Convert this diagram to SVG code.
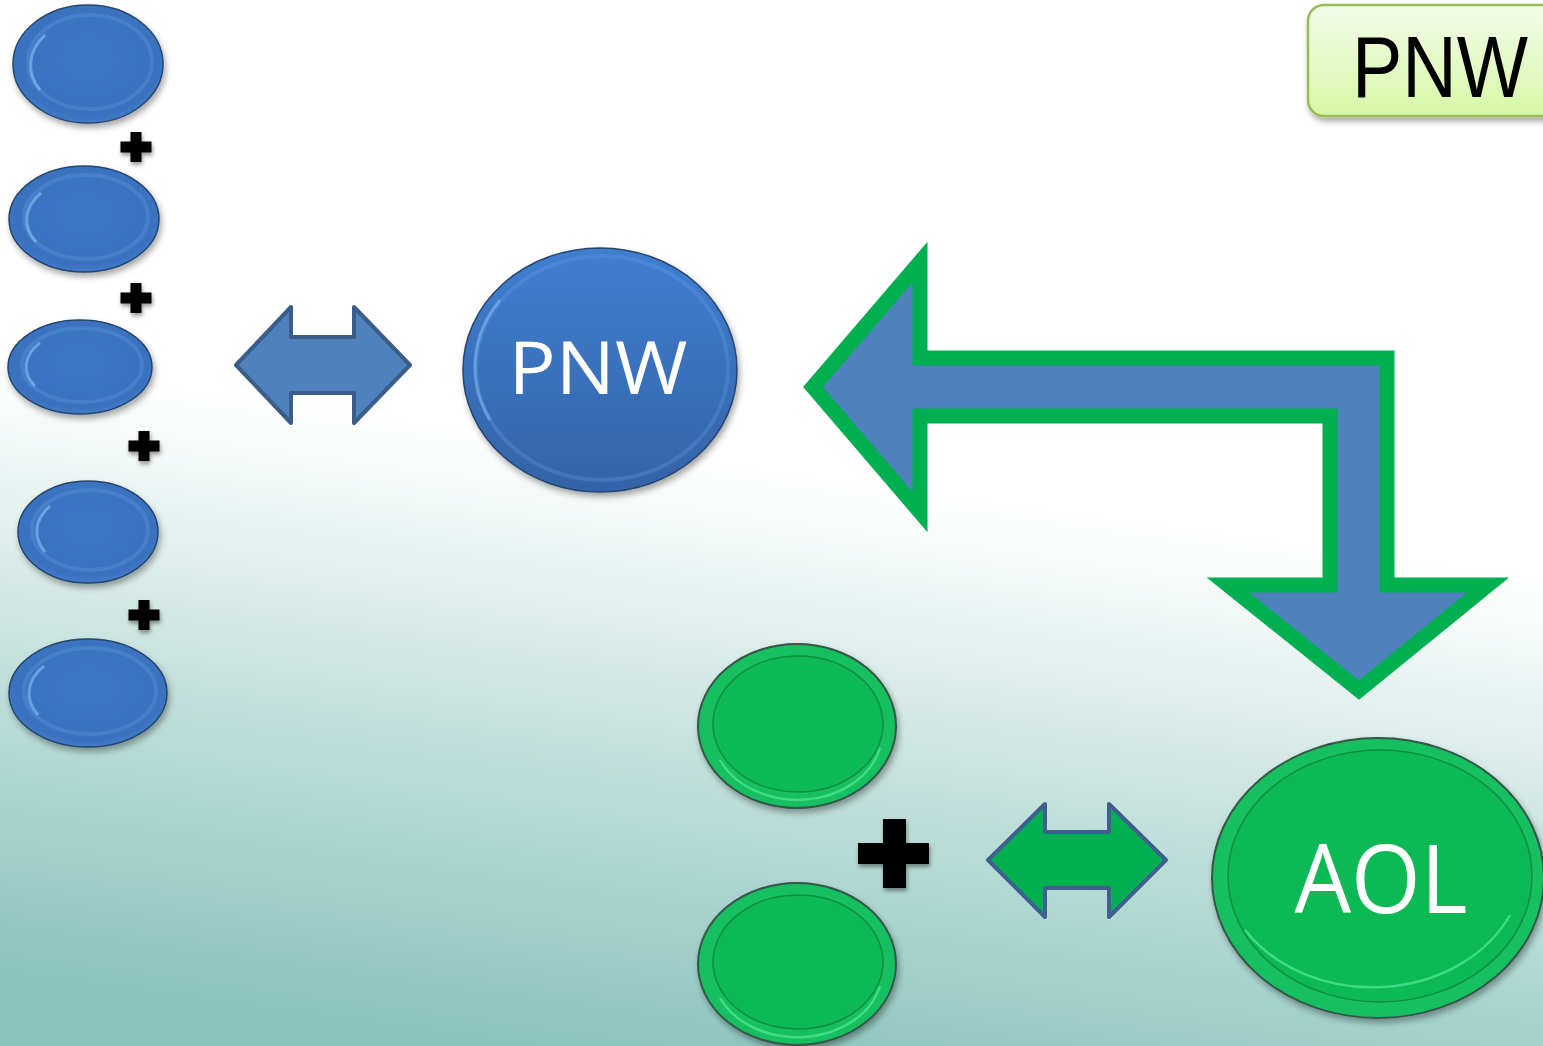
<svg xmlns="http://www.w3.org/2000/svg" width="1543" height="1046" viewBox="0 0 1543 1046">
<defs>
  <linearGradient id="bg" gradientUnits="userSpaceOnUse" x1="800" y1="470" x2="716" y2="1076">
    <stop offset="0" stop-color="#ffffff"/>
    <stop offset="0.12" stop-color="#f3f9f8"/>
    <stop offset="0.5" stop-color="#c2e0db"/>
    <stop offset="1" stop-color="#89c3bb"/>
  </linearGradient>
  <radialGradient id="blueFill" cx="0.5" cy="0.45" r="0.6">
    <stop offset="0" stop-color="#3d78c6"/>
    <stop offset="0.82" stop-color="#3a72bf"/>
    <stop offset="1" stop-color="#4a86d3"/>
  </radialGradient>
  <linearGradient id="bigBlue" x1="0" y1="0" x2="0" y2="1">
    <stop offset="0" stop-color="#3f7fd0"/>
    <stop offset="1" stop-color="#3563a8"/>
  </linearGradient>
  <linearGradient id="boxFill" x1="0" y1="0" x2="0" y2="1">
    <stop offset="0" stop-color="#f3fbea"/>
    <stop offset="1" stop-color="#d6f8a6"/>
  </linearGradient>
  <filter id="shadow" x="-20%" y="-20%" width="140%" height="150%">
    <feDropShadow dx="2" dy="4" stdDeviation="3" flood-color="#000" flood-opacity="0.35"/>
  </filter>
  <filter id="pshadow" x="-30%" y="-30%" width="160%" height="170%">
    <feDropShadow dx="1" dy="3" stdDeviation="2" flood-color="#000" flood-opacity="0.4"/>
  </filter>
  <style>
    .bl { fill: url(#blueFill); stroke: #24466f; stroke-width: 1.5; }
    .blr { fill: none; stroke: #6aa4ea; stroke-opacity: 0.25; stroke-width: 4; }
    .blh { fill: none; stroke: #8cc0f5; stroke-opacity: 0.6; stroke-width: 3; }
    .gr { fill: #16bf5e; stroke: #34574a; stroke-width: 2; }
    .gri { fill: #0bb954; stroke: #0c8f42; stroke-width: 1.5; }
    .grh { fill: none; stroke: #4be28e; stroke-width: 2.5; stroke-opacity: 0.8; }
    .plus { fill: #000; }
    .lbl { font-family: "Open Sans", "Noto Sans", sans-serif; fill: #fff; text-anchor: middle; }
  </style>
</defs>

<rect x="0" y="0" width="1543" height="1046" fill="url(#bg)"/>

<!-- top right label box -->
<g id="label-box">
  <rect x="1308" y="5" width="260" height="111" rx="16" ry="16" fill="url(#boxFill)" stroke="#9bbb59" stroke-width="2.5" filter="url(#shadow)"/>
  <text x="1352" y="97" font-family="Liberation Sans, Arial, sans-serif" font-size="88" fill="#000" textLength="176" lengthAdjust="spacingAndGlyphs">PNW</text>
</g>

<!-- small blue ellipses -->
<g id="blue-1" filter="url(#shadow)">
  <ellipse class="bl" cx="88" cy="64" rx="75" ry="59"/>
  <ellipse class="blr" cx="90" cy="62" rx="62" ry="47"/>
  <path class="blh" d="M 40 90 A 62 47 0 0 1 45 35"/>
</g>
<g id="blue-2" filter="url(#shadow)">
  <ellipse class="bl" cx="84" cy="219" rx="75" ry="53"/>
  <ellipse class="blr" cx="86" cy="217" rx="62" ry="42"/>
  <path class="blh" d="M 36 242 A 62 42 0 0 1 41 193"/>
</g>
<g id="blue-3" filter="url(#shadow)">
  <ellipse class="bl" cx="80" cy="367" rx="72" ry="47"/>
  <ellipse class="blr" cx="82" cy="365" rx="60" ry="37"/>
  <path class="blh" d="M 35 386 A 60 37 0 0 1 40 343"/>
</g>
<g id="blue-4" filter="url(#shadow)">
  <ellipse class="bl" cx="88" cy="532" rx="70" ry="51"/>
  <ellipse class="blr" cx="90" cy="530" rx="58" ry="40"/>
  <path class="blh" d="M 45 552 A 58 40 0 0 1 50 506"/>
</g>
<g id="blue-5" filter="url(#shadow)">
  <ellipse class="bl" cx="88" cy="693" rx="79" ry="54"/>
  <ellipse class="blr" cx="90" cy="691" rx="66" ry="43"/>
  <path class="blh" d="M 38 715 A 66 43 0 0 1 44 666"/>
</g>

<!-- small plus signs -->
<g id="plus-1" class="plus" filter="url(#pshadow)">
  <rect x="130.5" y="132" width="11" height="30"/>
  <rect x="120.5" y="141.5" width="31" height="11"/>
</g>
<g id="plus-2" class="plus" filter="url(#pshadow)">
  <rect x="130.5" y="283" width="11" height="30"/>
  <rect x="120.5" y="292.5" width="31" height="11"/>
</g>
<g id="plus-3" class="plus" filter="url(#pshadow)">
  <rect x="138.5" y="431" width="11" height="30"/>
  <rect x="128.5" y="440.5" width="31" height="11"/>
</g>
<g id="plus-4" class="plus" filter="url(#pshadow)">
  <rect x="138.5" y="600" width="11" height="30"/>
  <rect x="128.5" y="609.5" width="31" height="11"/>
</g>

<!-- PNW big ellipse -->
<g id="pnw" filter="url(#shadow)">
  <ellipse cx="600" cy="370" rx="137" ry="122" fill="url(#bigBlue)" stroke="#25466f" stroke-width="1.5"/>
  <ellipse cx="602" cy="368" rx="126" ry="112" fill="none" stroke="#6aa4ea" stroke-opacity="0.25" stroke-width="4"/>
  <path d="M 490 420 A 126 112 0 0 1 500 300" fill="none" stroke="#8cc0f5" stroke-opacity="0.5" stroke-width="3"/>
  <text class="lbl" x="598" y="394" font-size="73" textLength="179" lengthAdjust="spacingAndGlyphs">PNW</text>
</g>

<!-- green ellipses -->
<g id="green-1" filter="url(#shadow)">
  <ellipse class="gr" cx="797" cy="726" rx="99" ry="82"/>
  <ellipse class="gri" cx="798" cy="724" rx="85" ry="68"/>
  <path class="grh" d="M 720 760 A 85 68 0 0 0 880 748"/>
</g>
<g id="green-2" filter="url(#shadow)">
  <ellipse class="gr" cx="797" cy="964" rx="99" ry="81"/>
  <ellipse class="gri" cx="798" cy="962" rx="85" ry="67"/>
  <path class="grh" d="M 720 998 A 85 67 0 0 0 880 986"/>
</g>

<!-- big plus -->
<g id="plus-big" class="plus" filter="url(#pshadow)">
  <rect x="883" y="819" width="23" height="69"/>
  <rect x="858" y="843" width="71" height="21"/>
</g>

<!-- AOL big ellipse -->
<g id="aol" filter="url(#shadow)">
  <ellipse class="gr" cx="1378" cy="878" rx="166" ry="140"/>
  <ellipse class="gri" cx="1380" cy="876" rx="152" ry="126"/>
  <path class="grh" d="M 1245 930 A 152 126 0 0 0 1510 915"/>
  <text class="lbl" x="1381" y="913" font-size="95" textLength="173" lengthAdjust="spacingAndGlyphs">AOL</text>
</g>

<!-- connectors -->
<g id="connectors">
  <path d="M 236 365 L 291 307 L 291 337 L 354 337 L 354 307 L 410 365 L 354 423 L 354 393 L 291 393 L 291 423 Z" fill="#4f81bd" stroke="#3a5d8a" stroke-width="4" stroke-linejoin="round"/>
  <path d="M 813 387 L 920 262 L 920 358 L 1387 358 L 1387 585 L 1488 585 L 1359 690 L 1228 585 L 1330 585 L 1330 416 L 920 416 L 920 512 Z" fill="#4f81bd" stroke="#00b050" stroke-width="15" stroke-linejoin="miter" stroke-miterlimit="10"/>
  <path d="M 988 860 L 1045 804 L 1045 832 L 1109 832 L 1109 804 L 1166 860 L 1109 917 L 1109 888 L 1045 888 L 1045 917 Z" fill="#00b050" stroke="#3f5f8f" stroke-width="4" stroke-linejoin="round"/>
</g>
</svg>
